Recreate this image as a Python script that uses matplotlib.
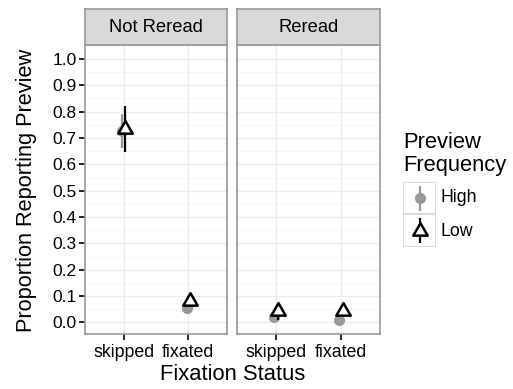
import matplotlib
matplotlib.use("Agg")
import matplotlib.pyplot as plt
from matplotlib.patches import Rectangle
from matplotlib.path import Path
import numpy as np

plt.rcParams['font.family'] = ['Liberation Sans', 'DejaVu Sans']

panels = ["Not Reread", "Reread"]
fix_status = ["skipped", "fixated"]
freq_levels = ["High", "Low"]

# proportion reporting preview, per panel: [skipped, fixated]
high_mean = {"Not Reread": [0.726, 0.053], "Reread": [0.020, 0.008]}
high_lo = {"Not Reread": [0.662, 0.045], "Reread": [0.012, 0.003]}
high_hi = {"Not Reread": [0.791, 0.061], "Reread": [0.028, 0.013]}
low_mean = {"Not Reread": [0.735, 0.082], "Reread": [0.043, 0.045]}
low_lo = {"Not Reread": [0.645, 0.072], "Reread": [0.010, 0.035]}
low_hi = {"Not Reread": [0.821, 0.092], "Reread": [0.055, 0.055]}

y_ticks = [0.0, 0.1, 0.2, 0.3, 0.4, 0.5, 0.6, 0.7, 0.8, 0.9, 1.0]

W, H = 513, 389
fig = plt.figure(figsize=(W / 100, H / 100), dpi=100)

def px_axes(x0, y0, x1, y1):
    return fig.add_axes([x0 / W, 1 - y1 / H, (x1 - x0) / W, (y1 - y0) / H])

# open equilateral triangle centred on its centroid
tri = Path([(0, 1), (0.866, -0.5), (-0.866, -0.5), (0, 1)],
           [Path.MOVETO, Path.LINETO, Path.LINETO, Path.CLOSEPOLY])

high_col = "#999999"
low_col = "#000000"
border_col = "#999999"
dodge = 0.026
tri_ms = 12
dot_ms = 7

panel_x = [(85, 227), (237, 380)]
for i, (name, (x0, x1)) in enumerate(zip(panels, panel_x)):
    ax = px_axes(x0, 45, x1, 334)
    ax.set_xlim(0.4, 2.6)
    ax.set_ylim(-0.044, 1.053)
    ax.set_facecolor("white")
    xs = np.arange(1, len(fix_status) + 1)
    # grid
    for y in y_ticks:
        ax.axhline(y, color="#EBEBEB", lw=0.9, zorder=0)
    for y in np.arange(0.05, 1.0, 0.1):
        ax.axhline(y, color="#F5F5F5", lw=0.6, zorder=0)
    for x in xs:
        ax.axvline(x, color="#EBEBEB", lw=0.9, zorder=0)
    # High frequency
    ax.vlines(xs - dodge, high_lo[name], high_hi[name], color=high_col, lw=1.6, zorder=2)
    ax.plot(xs - dodge, high_mean[name], "o", color=high_col, ms=dot_ms, mec=high_col, zorder=3)
    # Low frequency
    ax.vlines(xs + dodge, low_lo[name], low_hi[name], color=low_col, lw=1.6, zorder=4)
    ax.plot(xs + dodge, low_mean[name], marker=tri, ls="none", mfc="white", mec=low_col,
            mew=1.8, ms=tri_ms, zorder=5)

    ax.set_xticks(xs)
    ax.set_xticklabels(fix_status, fontsize=12.8, color="black")
    ax.tick_params(axis="x", length=4, width=1.2, color="black", pad=3)
    ax.set_yticks(y_ticks)
    if i == 0:
        ax.set_yticklabels([f"{v:.1f}" for v in y_ticks], fontsize=12.5)
        ax.tick_params(axis="y", length=4, width=1.2, color="black", pad=2)
    else:
        ax.tick_params(axis="y", length=0, labelleft=False)
    for s in ax.spines.values():
        s.set_color(border_col)
        s.set_linewidth(1.2)
    # strip
    sax = px_axes(x0, 9, x1, 45)
    sax.set_xticks([]); sax.set_yticks([])
    sax.set_facecolor("#D9D9D9")
    for s in sax.spines.values():
        s.set_color(border_col)
        s.set_linewidth(1.2)
    sax.text(0.5, 0.48, name, ha="center", va="center", fontsize=13.2, transform=sax.transAxes)

fig.text(232.5 / W, 1 - 375 / H, "Fixation Status", ha="center", va="center", fontsize=15.8)
fig.text(27 / W, 1 - 190 / H, "Proportion Reporting Preview", ha="center", va="center",
         rotation=90, fontsize=15.7)

# legend
fig.text(403 / W, 1 - 143 / H, "Preview", ha="left", va="center", fontsize=15.8)
fig.text(403 / W, 1 - 165 / H, "Frequency", ha="left", va="center", fontsize=15.8)
lax = px_axes(403, 182, 436, 247)
lax.set_xlim(0, 1); lax.set_ylim(0, 2)
lax.axis("off")
for k, lvl in enumerate(freq_levels):
    yb = 1 - k
    lax.add_patch(Rectangle((0, yb), 1, 1, facecolor="white", edgecolor="#D9D9D9", lw=1.2))
    if lvl == "High":
        lax.vlines(0.5, yb + 0.12, yb + 0.88, color=high_col, lw=1.6)
        lax.plot(0.5, yb + 0.5, "o", color=high_col, ms=dot_ms)
    else:
        lax.vlines(0.5, yb + 0.12, yb + 0.88, color=low_col, lw=1.6)
        lax.plot(0.5, yb + 0.5, marker=tri, ls="none", mfc="white", mec=low_col,
                 mew=1.8, ms=tri_ms)
    fig.text(440 / W, 1 - (198 + 33 * k) / H, lvl, ha="left", va="center", fontsize=12.8)

fig.savefig("out.png", dpi=100)
